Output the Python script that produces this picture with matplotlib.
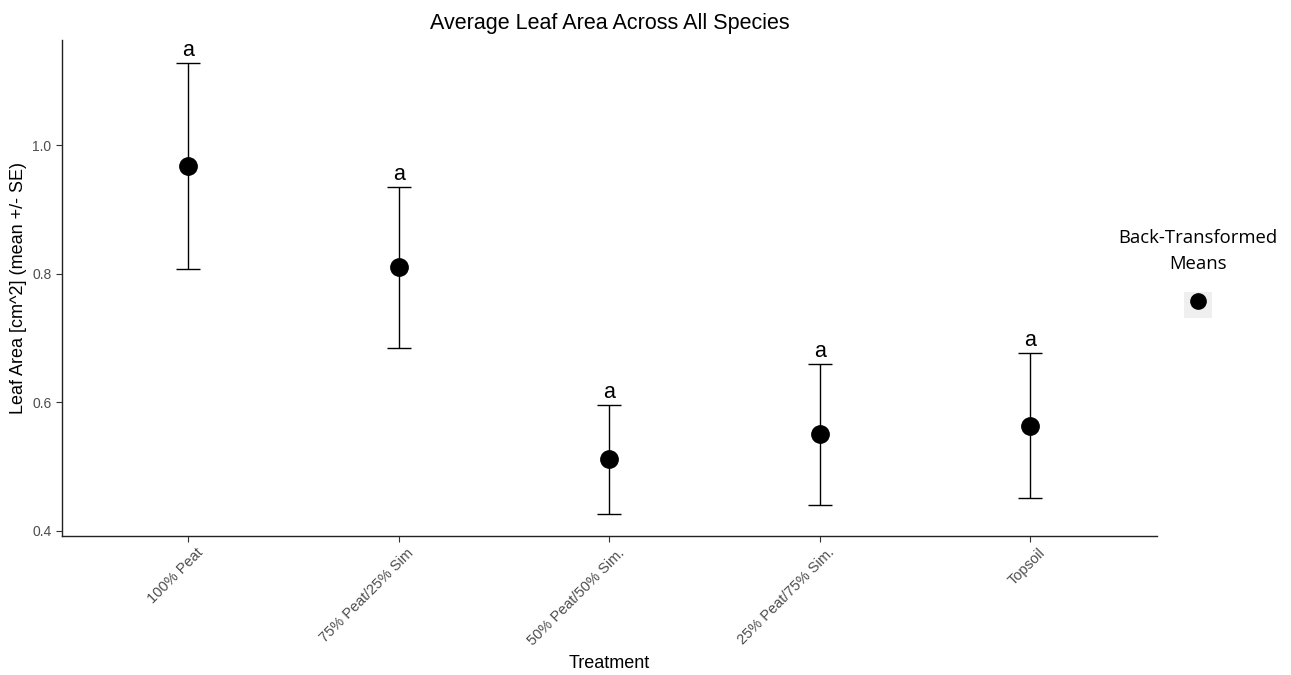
import matplotlib.pyplot as plt
from matplotlib.lines import Line2D
from matplotlib.patches import Patch
from matplotlib.legend_handler import HandlerTuple
from matplotlib.transforms import ScaledTranslation

plt.rcParams['font.family'] = ['Liberation Sans', 'DejaVu Sans']

# Data
treatments = ["100% Peat", "75% Peat/25% Sim", "50% Peat/50% Sim.",
              "25% Peat/75% Sim.", "Topsoil"]
means = [0.968, 0.811, 0.512, 0.551, 0.563]
upper = [1.128, 0.935, 0.596, 0.660, 0.677]
lower = [0.808, 0.685, 0.426, 0.440, 0.451]
letters = ["a", "a", "a", "a", "a"]
y_ticks = [0.4, 0.6, 0.8, 1.0]

fig = plt.figure(figsize=(12.91, 6.75), dpi=100)
ax = fig.add_axes([0.048, 0.206, 0.848, 0.735])

x = list(range(1, len(treatments) + 1))
err_lo = [m - l for m, l in zip(means, lower)]
err_hi = [u - m for m, u in zip(means, upper)]

ax.errorbar(x, means, yerr=[err_lo, err_hi], fmt="none", ecolor="black",
            elinewidth=1.0, capsize=8.5, capthick=1.0, zorder=2)
ax.plot(x, means, "o", color="black", markersize=12.5, zorder=3)

# significance letters above the bars
for xi, u, lab in zip(x, upper, letters):
    ax.text(xi, u + 0.003, lab, ha="center", va="bottom", fontsize=15.5,
            color="black")

ax.set_xlim(0.4, len(treatments) + 0.6)
ax.set_ylim(0.392, 1.164)
ax.set_xticks(x)
ax.set_xticklabels([])
# rotated category labels, ends sitting just right of the ticks
lab_tf = ax.get_xaxis_transform() + ScaledTranslation(
    5.5 / 72, -7 / 72, fig.dpi_scale_trans)
for xi, name in zip(x, treatments):
    ax.text(xi, 0, name, transform=lab_tf, rotation=45, ha="right",
            va="top", rotation_mode="anchor", fontsize=10.5,
            color="#4D4D4D")
ax.set_yticks(y_ticks)
ax.set_yticklabels([f"{v:.1f}" for v in y_ticks], fontsize=10,
                   color="#4D4D4D")
ax.tick_params(length=4, width=0.8, color="#333333")

for side in ["top", "right"]:
    ax.spines[side].set_visible(False)
for side in ["left", "bottom"]:
    ax.spines[side].set_linewidth(1.0)
    ax.spines[side].set_color("#222222")

ax.set_ylabel("Leaf Area [cm^2] (mean +/- SE)", fontsize=13, labelpad=4)
ax.set_title("Average Leaf Area Across All Species", fontsize=15.5, pad=8)
fig.text(609 / 1291, 1 - 663 / 675, "Treatment", ha="center", va="center",
         fontsize=13)

# legend: title as text, key with grey background
fig.text(1198 / 1291, 1 - 251 / 675, "Back-Transformed\nMeans",
         ha="center", va="center", linespacing=1.6,
         family="Open Sans", fontsize=13.3)
key = (Patch(facecolor="#EFEFEF", edgecolor="none"),
       Line2D([], [], marker="o", color="black", linestyle="none",
              markersize=11))
fig.legend([key], [""], handler_map={tuple: HandlerTuple(ndivide=1)},
           loc="center", bbox_to_anchor=(1198 / 1291, 1 - 305 / 675),
           frameon=False, handlelength=2.0, handleheight=2.5,
           handletextpad=0, borderpad=0, borderaxespad=0)

fig.savefig("out.png", dpi=100)
